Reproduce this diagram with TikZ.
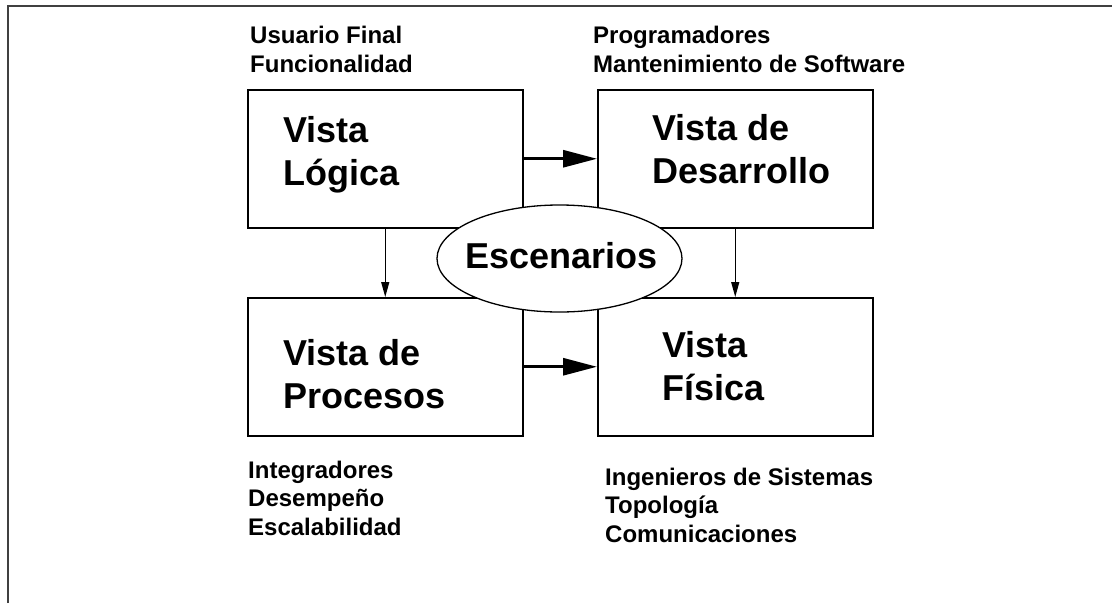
\documentclass[tikz,border=0pt]{standalone}
\usepackage{fontspec}
\setmainfont{Liberation Sans}
\usetikzlibrary{arrows.meta,shapes.geometric}
\newcommand\mylines[1]{\begin{tabular}[t]{@{}l@{}}#1\end{tabular}}
\begin{document}
\begin{tikzpicture}[x=1pt,y=-1pt,
  viewbox/.style={draw,line width=1.5pt,rectangle,minimum width=275pt,minimum height=138pt,inner sep=0pt,anchor=north west},
  bigtext/.style={anchor=base west,inner sep=0pt,font=\bfseries\fontsize{36}{43}\selectfont},
  smalltext/.style={anchor=base west,inner sep=0pt,font=\bfseries\fontsize{24}{29}\selectfont},
  smalltextb/.style={anchor=base west,inner sep=0pt,font=\bfseries\fontsize{24}{28.5}\selectfont},
  bigarrow/.style={line width=3pt,-{Triangle[length=34pt,width=17pt]}},
  smallarrow/.style={line width=1.3pt,-{Triangle[length=15pt,width=8pt]}}]
\useasboundingbox (0,0) rectangle (1112,603);
\draw[line width=1.5pt,black!75] (8,603) -- (8,6) -- (1112,6);

\node[viewbox] (lt) at (247,89) {};
\node[viewbox] (rt) at (597,89) {};
\node[viewbox] (lb) at (247,297) {};
\node[viewbox] (rb) at (597,297) {};

\node[bigtext] (ltt) at (283,142) {\mylines{Vista\\Lógica}};
\node[bigtext] (rtt) at (652,140) {\mylines{Vista de\\Desarrollo}};
\node[bigtext] (lbt) at (283,365) {\mylines{Vista de\\Procesos}};
\node[bigtext] (rbt) at (662,357) {\mylines{Vista\\Física}};

\draw[bigarrow] (lt.east) -- (rt.west);
\draw[bigarrow] (lb.east) -- (rb.west);
\draw[smallarrow] (lt.south) -- (lb.north);
\draw[smallarrow] (rt.south) -- (rb.north);

\node[draw,fill=white,line width=1.3pt,ellipse,minimum width=245pt,minimum height=107pt,inner sep=0pt] (esc) at (559.5,258.5) {};
\node[bigtext] (esct) at (465,268) {Escenarios};

\node[smalltext] (ut) at (250,43) {\mylines{Usuario Final\\Funcionalidad}};
\node[smalltext] (pt) at (593,43) {\mylines{Programadores\\Mantenimiento de Software}};
\node[smalltextb] (it) at (248,478) {\mylines{Integradores\\Desempeño\\Escalabilidad}};
\node[smalltextb] (gt) at (605,485) {\mylines{Ingenieros de Sistemas\\Topología\\Comunicaciones}};
\end{tikzpicture}
\end{document}
